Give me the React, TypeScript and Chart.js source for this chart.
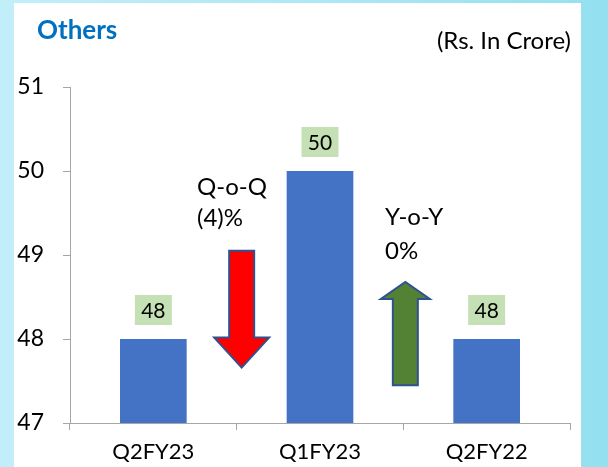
import React, { useEffect, useRef } from "react";
import { Chart, registerables } from "chart.js";
Chart.register(...registerables);

const categories = ["Q2FY23", "Q1FY23", "Q2FY22"];
const values = [48, 50, 48];
const yMin = 47;
const yMax = 51;
const titleText = "Others";
const unitText = "(Rs. In Crore)";
const qoqLabel = ["Q-o-Q", "(4)%"];
const yoyLabel = ["Y-o-Y", "0%"];

const FONT = "Lato, 'Open Sans', sans-serif";

function drawArrow(ctx: CanvasRenderingContext2D, cx: number, yStart: number, yTip: number, shaftW: number, headW: number, headH: number, fill: string) {
  const dir = yTip > yStart ? 1 : -1;
  const headBase = yTip - dir * headH;
  ctx.beginPath();
  ctx.moveTo(cx - shaftW / 2, yStart);
  ctx.lineTo(cx + shaftW / 2, yStart);
  ctx.lineTo(cx + shaftW / 2, headBase);
  ctx.lineTo(cx + headW / 2, headBase);
  ctx.lineTo(cx, yTip);
  ctx.lineTo(cx - headW / 2, headBase);
  ctx.lineTo(cx - shaftW / 2, headBase);
  ctx.closePath();
  ctx.fillStyle = fill;
  ctx.fill();
  ctx.lineWidth = 2;
  ctx.strokeStyle = "#2f528f";
  ctx.stroke();
}

const overlayPlugin = {
  id: "overlay",
  afterDatasetsDraw(chart: any) {
    const ctx = chart.ctx as CanvasRenderingContext2D;
    const xs = chart.scales.x;
    const ys = chart.scales.y;
    const meta = chart.getDatasetMeta(0);
    ctx.save();
    // data labels
    meta.data.forEach((bar: any, i: number) => {
      const w = 37, h = 30;
      const bottom = bar.y - 14;
      ctx.fillStyle = "#c5e0b4";
      ctx.fillRect(bar.x - w / 2, bottom - h, w, h);
      ctx.fillStyle = "#000";
      ctx.font = `21px ${FONT}`;
      ctx.textAlign = "center";
      ctx.textBaseline = "middle";
      ctx.fillText(String(values[i]), bar.x, bottom - h / 2 + 1);
    });
    // arrows
    const redX = xs.getPixelForValue(0.5) + 5;
    drawArrow(ctx, redX, ys.getPixelForValue(49.05), ys.getPixelForValue(47.66), 25, 55, 30, "#ff0000");
    const greenX = xs.getPixelForValue(1.5) + 2;
    drawArrow(ctx, greenX, ys.getPixelForValue(47.45), ys.getPixelForValue(48.68), 25, 49, 17, "#548235");
    // texts
    ctx.fillStyle = "#000";
    ctx.font = `24px ${FONT}`;
    ctx.textAlign = "left";
    ctx.textBaseline = "middle";
    ctx.fillText(qoqLabel[0], 197, 187);
    ctx.fillText(qoqLabel[1], 197, 218);
    ctx.fillText(yoyLabel[0], 385, 217);
    ctx.fillText(yoyLabel[1], 385, 251);
    // title
    ctx.font = `bold 26px ${FONT}`;
    ctx.fillStyle = "#0070c0";
    ctx.fillText(titleText, 37, 31);
    ctx.font = `24px ${FONT}`;
    ctx.fillStyle = "#000";
    ctx.textAlign = "right";
    ctx.fillText(unitText, 571, 41);
    ctx.restore();
  },
};

export default function App() {
  const ref = useRef<HTMLCanvasElement>(null);
  useEffect(() => {
    const chart = new Chart(ref.current!, {
      type: "bar",
      data: {
        labels: categories,
        datasets: [
          {
            data: values,
            backgroundColor: "#4472c4",
            barPercentage: 0.4,
            categoryPercentage: 1,
          },
        ],
      },
      options: {
        animation: false,
        responsive: false,
        layout: { padding: { left: 0, right: 38, top: 87, bottom: 0 } },
        plugins: { legend: { display: false }, tooltip: { enabled: false } },
        scales: {
          x: {
            grid: { drawOnChartArea: false, drawTicks: true, tickLength: 7, color: "#a6a6a6", offset: true },
            border: { color: "#a6a6a6" },
            ticks: { color: "#000", font: { family: FONT, size: 22 }, padding: 9 },
            afterFit: (axis: any) => { axis.height = 44; },
          },
          y: {
            min: yMin,
            max: yMax,
            grid: { drawOnChartArea: false, drawTicks: true, tickLength: 7, color: "#a6a6a6" },
            border: { color: "#a6a6a6" },
            ticks: { stepSize: 1, color: "#000", font: { family: FONT, size: 23 }, padding: 19 },
            afterFit: (axis: any) => { axis.width = 70; },
          },
        },
      },
      plugins: [overlayPlugin],
    });
    return () => chart.destroy();
  }, []);
  return (
    <div style={{ position: "fixed", left: 0, top: 0, width: 608, height: 467, background: "linear-gradient(90deg, #c2eef9 0%, #aee8f5 50%, #94e0f0 100%)" }}>
      <div style={{ position: "absolute", left: 14, top: 3, width: 567, height: 464, background: "#fff" }} />
      <canvas ref={ref} width={608} height={467} style={{ position: "absolute", left: 0, top: 0 }} />
    </div>
  );
}
